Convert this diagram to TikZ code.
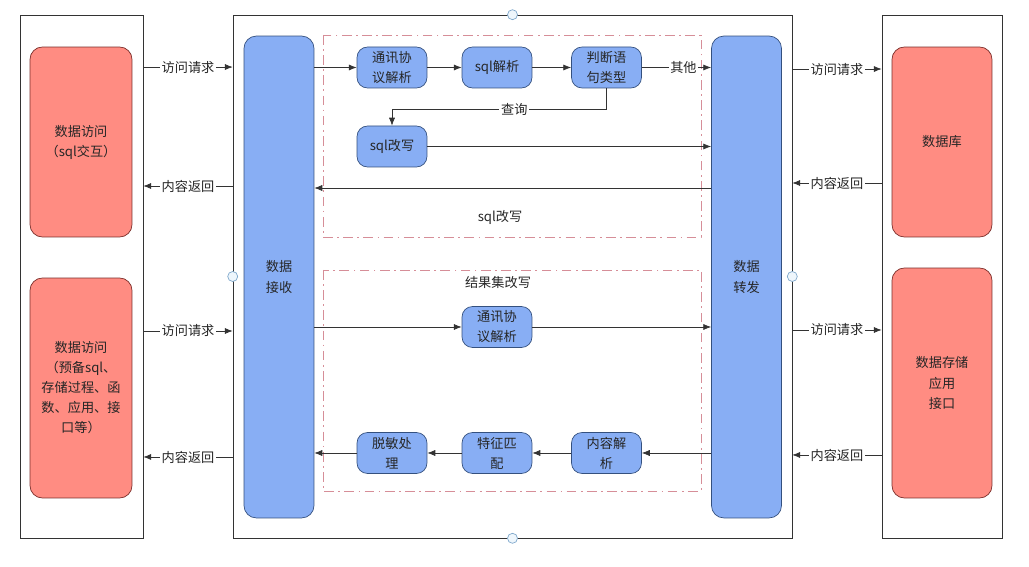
\documentclass[tikz,border=0pt]{standalone}
\usepackage{fontspec}
\newfontfamily\cjk{Noto Sans CJK SC}
\usetikzlibrary{positioning,arrows.meta}
\definecolor{dmRed}{HTML}{FF8C82}
\definecolor{dmRedLine}{HTML}{7A2E2A}
\definecolor{dmBlue}{HTML}{88AEF4}
\definecolor{dmBlueLine}{HTML}{34507E}
\definecolor{dmLine}{HTML}{333333}
\definecolor{dmDash}{HTML}{D68E98}
\definecolor{dmHandle}{HTML}{7FA8CC}
\definecolor{dmHandleFill}{HTML}{EEF6FC}

\begin{document}
\begin{tikzpicture}[
    x=0.02cm, y=-0.02cm,
    every node/.append style={font=\cjk\fontsize{7.5}{11.4}\selectfont, text=black!85},
    frame/.style={draw=dmLine, thin, minimum height=10.46cm},
    srcbox/.style={draw=dmRedLine, fill=dmRed, rounded corners=7pt, minimum width=2.04cm, align=center},
    stage/.style={draw=dmBlueLine, fill=dmBlue, rounded corners=7pt, minimum width=1.4cm, minimum height=9.64cm, align=center},
    proc/.style={draw=dmBlueLine, fill=dmBlue, rounded corners=6pt, minimum width=1.4cm, minimum height=0.82cm, align=center, inner sep=1pt},
    group/.style={draw=dmDash, dash pattern=on 5.5pt off 2.5pt on 1pt off 2.5pt},
    handle/.style={circle, draw=dmHandle, fill=dmHandleFill, inner sep=0pt, minimum size=0.2cm},
    arrow/.style={-{Latex[length=4.5pt,width=3.5pt]}, dmLine, thin},
    lbl/.style={fill=white, inner sep=1pt}
]
    \useasboundingbox (0,0) rectangle (1029,567);

    % Containers
    \node[frame, minimum width=2.46cm] (client) at (81.5,276.5) {};
    \node[frame, minimum width=11.18cm] (proxy) at (512.5,276.5) {};
    \node[frame, minimum width=2.4cm] (server) at (942,276.5) {};

    % Selection handles
    \node[handle] (hn) at (proxy.north) {};
    \node[handle] (hs) at (proxy.south) {};
    \node[handle] (hw) at (proxy.west) {};
    \node[handle] (he) at (proxy.east) {};

    % Clients and back ends
    \node[srcbox, minimum height=3.8cm] (sqlaccess) at (81,142) {数据访问\\（sql交互）};
    \node[srcbox, minimum height=4.4cm] (appaccess) at (81,388) {数据访问\\（预备sql、\\存储过程、函\\数、应用、接\\口等）};
    \node[srcbox, minimum width=2.0cm, minimum height=3.8cm] (db) at (942,142) {数据库};
    \node[srcbox, minimum width=2.0cm, minimum height=4.6cm] (store) at (942,383) {数据存储\\应用\\接口};

    % Receive / forward
    \node[stage] (recv) at (279,277) {数据\\接收};
    \node[stage] (fwd) at (746.5,277) {数据\\转发};

    % Groups
    \draw[group] (323,35) rectangle (701,237);
    \draw[group] (323,270) rectangle (701,491);
    \node (rewritetitle) at (500,217) {sql改写};
    \node (resulttitle) at (498,283) {结果集改写};

    % SQL rewrite steps
    \node[proc] (proto) at (392,67.5) {通讯协\\议解析};
    \node[proc] (parse) at (497,67.5) {sql解析};
    \node[proc] (judge) at (606.5,67.5) {判断语\\句类型};
    \node[proc] (rewrite) at (392,146.5) {sql改写};
    \coordinate (querylevel) at (0,109);

    % Result set steps
    \node[proc] (proto2) at (497,327) {通讯协\\议解析};
    \node[proc] (mask) at (392,453) {脱敏处\\理};
    \node[proc] (match) at (497,453) {特征匹\\配};
    \node[proc] (content) at (606.5,453) {内容解\\析};

    % Outer arrows, left
    \draw[arrow] ([yshift=4.19cm]client.east) -- node[lbl] {访问请求} ([yshift=4.19cm]proxy.west);
    \draw[arrow] ([yshift=1.81cm]proxy.west) -- node[lbl] {内容返回} ([yshift=1.81cm]client.east);
    \draw[arrow] ([yshift=-1.09cm]client.east) -- node[lbl] {访问请求} ([yshift=-1.09cm]proxy.west);
    \draw[arrow] ([yshift=-3.61cm]proxy.west) -- node[lbl] {内容返回} ([yshift=-3.61cm]client.east);

    % Outer arrows, right
    \draw[arrow] ([yshift=4.15cm]proxy.east) -- node[lbl] {访问请求} ([yshift=4.15cm]server.west);
    \draw[arrow] ([yshift=1.87cm]server.west) -- node[lbl] {内容返回} ([yshift=1.87cm]proxy.east);
    \draw[arrow] ([yshift=-1.07cm]proxy.east) -- node[lbl] {访问请求} ([yshift=-1.07cm]server.west);
    \draw[arrow] ([yshift=-3.57cm]server.west) -- node[lbl] {内容返回} ([yshift=-3.57cm]proxy.east);

    % SQL rewrite flow
    \draw[arrow] (recv.east |- proto) -- (proto);
    \draw[arrow] (proto) -- (parse);
    \draw[arrow] (parse) -- (judge);
    \draw[arrow] (judge) -- node[lbl, pos=0.6] {其他} (judge -| fwd.west);
    \draw[arrow] (judge.south) -- (judge.south |- querylevel) -- node[lbl, pos=0.43] {查询} (rewrite.north |- querylevel) -- (rewrite.north);
    \draw[arrow] (rewrite) -- (rewrite -| fwd.west);
    \draw[arrow] ([yshift=1.78cm]fwd.west) -- ([yshift=1.78cm]recv.east);

    % Result set flow
    \draw[arrow] (recv.east |- proto2) -- (proto2);
    \draw[arrow] (proto2) -- (proto2 -| fwd.west);
    \draw[arrow] (fwd.west |- content) -- (content);
    \draw[arrow] (content) -- (match);
    \draw[arrow] (match) -- (mask);
    \draw[arrow] (mask) -- (mask -| recv.east);
\end{tikzpicture}
\end{document}
